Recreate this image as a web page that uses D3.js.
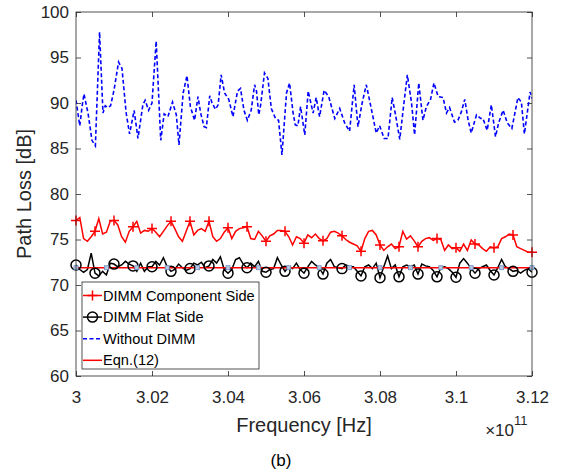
<!DOCTYPE html>
<html>
<head>
<meta charset="utf-8">
<script src="https://cdn.jsdelivr.net/npm/d3@7/dist/d3.min.js"></script>
<style>
body{margin:0;background:#fff;}
text{font-family:Arial,"Liberation Sans",Helvetica,sans-serif;}
</style>
</head>
<body>
<script>
// frequency sweep in GHz (axis shows units of 1e11 Hz)
var freqGHz = d3.range(0, 121).map(function(i){ return 300 + i*0.1; });
var xTicks = [300, 302, 304, 306, 308, 310, 312];
var yTicks = [60, 65, 70, 75, 80, 85, 90, 95, 100];
var legendNames = ["DIMM Component Side", "DIMM Flat Side", "Without DIMM", "Eqn.(12)"];

// path loss [dB], one value per sweep point
var componentSide = [
  77.1, 77.4, 75.1, 74.8, 75.3, 75.9, 77.3, 75.6, 75.8, 77.0,
  77.1, 76.6, 75.3, 74.7, 75.9, 76.4, 77.0, 75.7, 76.0, 75.9,
  76.2, 75.8, 75.3, 75.9, 76.5, 77.0, 76.2, 75.3, 74.8, 75.9,
  77.0, 75.5, 76.0, 76.2, 75.9, 77.0, 75.3, 74.8, 75.1, 75.8,
  76.3, 75.1, 75.9, 76.2, 76.3, 76.4, 75.1, 75.0, 75.9, 75.4,
  74.8, 75.4, 75.6, 76.0, 76.0, 75.9, 75.3, 74.4, 75.3, 75.1,
  74.6, 75.5, 75.2, 75.6, 75.1, 74.85, 75.1, 75.8, 75.9, 75.7,
  75.4, 75.0, 74.7, 74.5, 74.3, 73.7, 75.1, 75.9, 76.0, 75.5,
  74.4, 73.8, 74.2, 74.5, 74.0, 74.2, 75.9, 75.05, 75.4, 74.85,
  74.2, 74.8, 75.1, 75.2, 74.9, 75.1, 75.0, 73.8, 74.4, 74.0,
  74.1, 73.7, 74.5, 73.8, 74.95, 74.5, 74.4, 74.0, 73.7, 74.2,
  74.1, 74.2, 75.1, 75.3, 75.6, 75.5, 74.2, 74.0, 73.8, 73.6,
  73.6];

var flatSide = [
  72.2, 71.7, 71.4, 71.7, 73.5, 71.3, 71.0, 71.5, 71.1, 72.4,
  72.3, 72.0, 72.2, 72.6, 72.3, 72.1, 71.5, 72.4, 71.5, 72.0,
  72.0, 72.6, 72.2, 73.0, 72.0, 71.5, 71.7, 72.3, 71.9, 71.6,
  71.8, 72.4, 72.2, 72.5, 71.9, 72.1, 72.8, 72.4, 73.1, 71.7,
  71.3, 71.7, 72.8, 73.0, 72.3, 71.9, 72.4, 72.0, 72.6, 71.5,
  71.4, 71.7, 71.8, 73.0, 72.2, 71.5, 72.0, 71.8, 72.4, 71.7,
  71.3, 72.0, 72.6, 72.2, 71.9, 71.2, 72.4, 72.8, 72.0, 71.9,
  71.8, 72.2, 72.0, 72.0, 71.5, 71.0, 72.0, 72.2, 71.8, 72.4,
  70.8, 72.0, 73.2, 71.8, 72.2, 70.9, 72.0, 72.2, 72.0, 72.2,
  71.2, 72.3, 72.1, 72.0, 71.6, 70.9, 71.9, 72.0, 71.8, 71.4,
  70.85, 72.4, 72.9, 72.4, 71.8, 71.3, 71.8, 72.0, 72.2, 71.6,
  71.1, 71.9, 72.8, 72.0, 71.8, 71.5, 71.6, 71.3, 71.6, 71.8,
  71.4];

// [GHz, dB]
var withoutDimm = [
  [300.0,90.3],[300.1,87.5],[300.16,89.6],[300.21,91.0],[300.32,88.8],[300.42,85.9],[300.51,85.3],
  [300.62,97.8],[300.71,88.9],[300.77,89.7],[300.84,89.5],[300.91,89.7],[301.0,91.4],[301.12,94.5],
  [301.21,93.8],[301.32,88.9],[301.41,86.6],[301.53,89.2],[301.63,86.1],[301.76,89.8],[301.82,90.3],
  [301.91,89.2],[302.0,90.0],[302.11,96.8],[302.23,85.9],[302.32,88.8],[302.42,88.5],[302.54,90.1],
  [302.64,88.7],[302.71,85.4],[302.82,91.1],[302.92,93.0],[303.01,89.6],[303.12,88.1],[303.21,90.7],
  [303.28,88.9],[303.37,87.4],[303.43,87.3],[303.52,90.8],[303.58,90.0],[303.67,89.3],[303.74,89.8],
  [303.82,93.1],[303.91,91.1],[304.02,90.4],[304.13,88.5],[304.25,91.3],[304.33,91.6],[304.42,89.2],
  [304.51,88.1],[304.61,89.2],[304.7,92.0],[304.75,91.3],[304.81,88.7],[304.86,89.8],[304.96,93.3],
  [305.05,92.7],[305.14,89.4],[305.25,88.3],[305.33,88.1],[305.42,84.3],[305.54,91.1],[305.62,92.2],
  [305.71,89.0],[305.77,87.6],[305.84,87.5],[305.91,89.6],[306.02,86.5],[306.11,91.3],[306.18,90.0],
  [306.24,88.9],[306.32,90.6],[306.41,88.5],[306.53,91.4],[306.65,90.7],[306.81,88.3],[306.94,89.4],
  [307.07,87.8],[307.2,86.9],[307.32,92.0],[307.42,87.4],[307.53,90.0],[307.64,92.0],[307.77,89.4],
  [307.9,86.7],[307.99,87.5],[308.11,86.1],[308.21,86.1],[308.32,90.6],[308.4,88.9],[308.52,86.0],
  [308.63,90.0],[308.72,93.1],[308.83,90.0],[308.91,86.5],[309.02,92.2],[309.13,88.1],[309.22,89.6],
  [309.33,90.4],[309.42,92.2],[309.53,90.7],[309.66,90.6],[309.75,88.9],[309.83,89.5],[309.96,87.9],
  [310.05,88.1],[310.14,89.0],[310.23,90.4],[310.32,88.1],[310.4,86.7],[310.54,88.7],[310.65,88.3],
  [310.71,88.3],[310.82,87.0],[310.93,89.8],[311.04,86.3],[311.12,87.8],[311.24,89.2],[311.35,87.8],
  [311.47,87.2],[311.63,90.6],[311.72,90.1],[311.8,86.6],[311.95,91.2],[312.0,90.5]];

var eqnFreq = [300, 300.8, 301.6, 302.4, 303.2, 304, 304.8, 305.6, 306.4, 307.2, 308, 308.8, 309.6, 310.4, 311.2, 312];
var eqnLoss = [71.9, 71.9, 71.9, 71.9, 71.9, 71.9, 71.9, 71.9, 71.9, 71.9, 71.9, 71.9, 71.9, 71.9, 71.9, 71.9];

var svgWidth = 562, svgHeight = 472;
var pLeft = 76, pRight = 532, pTop = 12, pBottom = 376;
var axisCol = "#262626";

var svg = d3.select("body").append("svg")
  .attr("width", svgWidth)
  .attr("height", svgHeight);

var x = d3.scaleLinear().domain([300, 312]).range([pLeft, pRight]);
var y = d3.scaleLinear().domain([60, 100]).range([pBottom, pTop]);

// clip so nothing leaks past the box
svg.append("clipPath").attr("id", "plotClip")
  .append("rect").attr("x", pLeft).attr("y", pTop)
  .attr("width", pRight-pLeft).attr("height", pBottom-pTop);

function styleAxis(g){
  g.select(".domain").remove();
  g.selectAll(".tick line").attr("stroke", axisCol).attr("stroke-width", 0.8);
  g.selectAll(".tick text").attr("fill", axisCol).attr("font-size", 17)
   .attr("font-family", "Arial, 'Liberation Sans', sans-serif");
}

var fmtX = function(d){ return +(d/100).toFixed(2) + ""; };

svg.append("g").attr("transform", "translate(0," + pBottom + ")")
  .call(d3.axisBottom(x).tickValues(xTicks).tickFormat(fmtX).tickSizeInner(-5).tickSizeOuter(0).tickPadding(15))
  .call(styleAxis);
svg.append("g").attr("transform", "translate(0," + pTop + ")")
  .call(d3.axisTop(x).tickValues(xTicks).tickFormat("").tickSizeInner(-5).tickSizeOuter(0))
  .call(styleAxis);
svg.append("g").attr("transform", "translate(" + pLeft + ",0)")
  .call(d3.axisLeft(y).tickValues(yTicks).tickSizeInner(-5).tickSizeOuter(0).tickPadding(7))
  .call(styleAxis);
svg.append("g").attr("transform", "translate(" + pRight + ",0)")
  .call(d3.axisRight(y).tickValues(yTicks).tickFormat("").tickSizeInner(-5).tickSizeOuter(0))
  .call(styleAxis);

var plot = svg.append("g").attr("clip-path", "url(#plotClip)");

var gridLine = d3.line()
  .x(function(d, i){ return x(freqGHz[i]); })
  .y(function(d){ return y(d); });
var pairLine = d3.line()
  .x(function(d){ return x(d[0]); })
  .y(function(d){ return y(d[1]); });

var plusPath = "M-5,0H5M0,-5V5";

// component side, red with + every 0.5 GHz
plot.append("path").datum(componentSide)
  .attr("d", gridLine).attr("fill", "none")
  .attr("stroke", "#ff0000").attr("stroke-width", 1.5);
svg.selectAll(".plus")
  .data(componentSide.filter(function(d, i){ return i % 5 == 0; }))
  .enter().append("path").attr("class", "plus")
  .attr("transform", function(d, i){ return "translate(" + x(freqGHz[i*5]) + "," + y(d) + ")"; })
  .attr("d", plusPath).attr("stroke", "#ff0000").attr("stroke-width", 1.5);

// flat side, black with circles
plot.append("path").datum(flatSide)
  .attr("d", gridLine).attr("fill", "none")
  .attr("stroke", "#000").attr("stroke-width", 1.5);
svg.selectAll(".circ")
  .data(flatSide.filter(function(d, i){ return i % 5 == 0; }))
  .enter().append("circle").attr("class", "circ")
  .attr("cx", function(d, i){ return x(freqGHz[i*5]); })
  .attr("cy", function(d){ return y(d); })
  .attr("r", 5).attr("fill", "none")
  .attr("stroke", "#000").attr("stroke-width", 1.5);

// without DIMM, blue dashed
plot.append("path").datum(withoutDimm)
  .attr("d", pairLine).attr("fill", "none")
  .attr("stroke", "#0000ff").attr("stroke-width", 1.6)
  .attr("stroke-dasharray", "4,2.5");

// Eqn.(12)
var eqnData = eqnFreq.map(function(f, i){ return [f, eqnLoss[i]]; });
plot.append("path").datum(eqnData)
  .attr("d", pairLine).attr("fill", "none")
  .attr("stroke", "#ff0000").attr("stroke-width", 1.5);
svg.selectAll(".sq")
  .data(eqnData)
  .enter().append("rect").attr("class", "sq")
  .attr("x", function(d){ return x(d[0]) - 2; })
  .attr("y", function(d){ return y(d[1]) - 2; })
  .attr("width", 4).attr("height", 4)
  .attr("fill", "#b7c9e2").attr("stroke", "#6f8fbf").attr("stroke-width", 0.8);

// box
svg.append("rect")
  .attr("x", pLeft).attr("y", pTop)
  .attr("width", pRight-pLeft).attr("height", pBottom-pTop)
  .attr("fill", "none").attr("stroke", axisCol).attr("stroke-width", 0.8);

// legend
var lg = svg.append("g");
lg.append("rect").attr("x", 82).attr("y", 282).attr("width", 177).attr("height", 87)
  .attr("fill", "#fff").attr("stroke", axisCol).attr("stroke-width", 0.8);
var rows = lg.selectAll(".row").data(legendNames).enter().append("g")
  .attr("transform", function(d, i){ return "translate(0," + (295.5 + i*21.6) + ")"; });
rows.append("line").attr("x1", 83).attr("x2", 102).attr("y1", 0).attr("y2", 0)
  .attr("stroke", function(d, i){ return ["#ff0000", "#000", "#0000ff", "#ff0000"][i]; })
  .attr("stroke-width", 1.5)
  .attr("stroke-dasharray", function(d, i){ return i == 2 ? "4,2.5" : null; });
rows.filter(function(d, i){ return i == 0; }).append("path")
  .attr("transform", "translate(92.5,0)").attr("d", plusPath)
  .attr("stroke", "#ff0000").attr("stroke-width", 1.5);
rows.filter(function(d, i){ return i == 1; }).append("circle")
  .attr("cx", 92.5).attr("cy", 0).attr("r", 5)
  .attr("fill", "none").attr("stroke", "#000").attr("stroke-width", 1.5);
rows.append("text").attr("x", 103).attr("dy", "0.35em")
  .attr("font-size", 14.6).attr("fill", "#000").text(function(d){ return d; });

// axis titles
svg.append("text").attr("transform", "translate(31," + ((pTop+pBottom)/2) + ") rotate(-90)")
  .attr("text-anchor", "middle").attr("font-size", 20).attr("fill", axisCol)
  .text("Path Loss [dB]");
svg.append("text").attr("x", (pLeft+pRight)/2).attr("y", 432)
  .attr("text-anchor", "middle").attr("font-size", 20).attr("fill", axisCol)
  .text("Frequency [Hz]");
svg.append("text").attr("x", 514).attr("y", 436)
  .attr("text-anchor", "end").attr("font-size", 17).attr("fill", axisCol)
  .text("\u00d710");
svg.append("text").attr("x", 514).attr("y", 425)
  .attr("font-size", 13).attr("fill", axisCol).text("11");

svg.append("text").attr("x", 281).attr("y", 466)
  .attr("text-anchor", "middle").attr("font-size", 17)
  .attr("font-family", "'Liberation Serif', 'Times New Roman', serif")
  .attr("fill", "#000").text("(b)");
</script>
</body>
</html>
